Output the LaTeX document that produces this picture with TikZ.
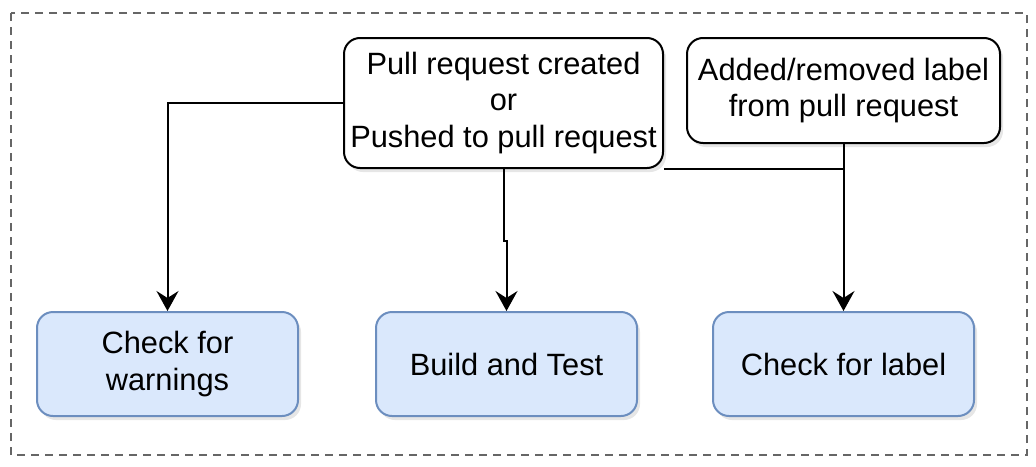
\documentclass[tikz,border=0pt]{standalone}
\usepackage{xcolor}
\usepackage{fontspec}
\setmainfont{Liberation Sans}
\usepackage{tikz}
\usetikzlibrary{arrows.meta, positioning, shadows}
\definecolor{darkgray}{RGB}{102, 102, 102}
\definecolor{jobcolor}{RGB}{218, 232, 252}
\definecolor{jobborder}{RGB}{108, 142, 191}

\begin{document}
\begin{tikzpicture}[
    x=0.5pt, y=-0.5pt,
    trigger/.style={draw=black, fill=white, line width=1pt, rounded corners=8pt, inner sep=2pt, align=center, font=\fontsize{15.4}{18.2}\selectfont, drop shadow={shadow xshift=1.5pt, shadow yshift=-2pt, opacity=0.2}},
    job/.style={draw=jobborder, fill=jobcolor, line width=1pt, rounded corners=8pt, minimum width=130.5pt, minimum height=52pt, inner sep=2pt, align=center, font=\fontsize{15.4}{18.2}\selectfont, drop shadow={shadow xshift=1.5pt, shadow yshift=-2pt, opacity=0.2}},
    arrow/.style={-{Stealth[length=10pt, width=11pt, inset=3.5pt]}, line width=1pt, black},
    link/.style={line width=1pt, black},
    frame/.style={draw=darkgray, line width=1pt, dash pattern=on 4pt off 3pt}
]
    \useasboundingbox (0,0) rectangle (1036,466);
    \draw[frame] (11,13) rectangle (1027,455);

    % Nodes - top row
    \node[trigger, minimum width=159.5pt, minimum height=65pt] (created) at (503.5,103) {Pull request created\\or\\Pushed to pull request};
    \node[trigger, minimum width=156.5pt, minimum height=52.5pt, right=11pt of created.north east, anchor=north west] (labeled) {Added/removed label\\from pull request};

    % Nodes - bottom row
    \node[job] (warnings) at (167.5,364) {Check for\\warnings};
    \node[job, right=38pt of warnings] (build) {Build and Test};
    \node[job, right=37pt of build] (chklabel) {Check for label};

    % Arrows
    \draw[arrow] (created.west) -| (warnings.north);
    \draw[arrow] (created.south) -- ++(0,72) -| (build.north);
    \draw[link] (created.south east) -- (labeled.south |- created.south east);
    \draw[arrow] (labeled.south) -- (labeled.south |- chklabel.north);
\end{tikzpicture}
\end{document}
